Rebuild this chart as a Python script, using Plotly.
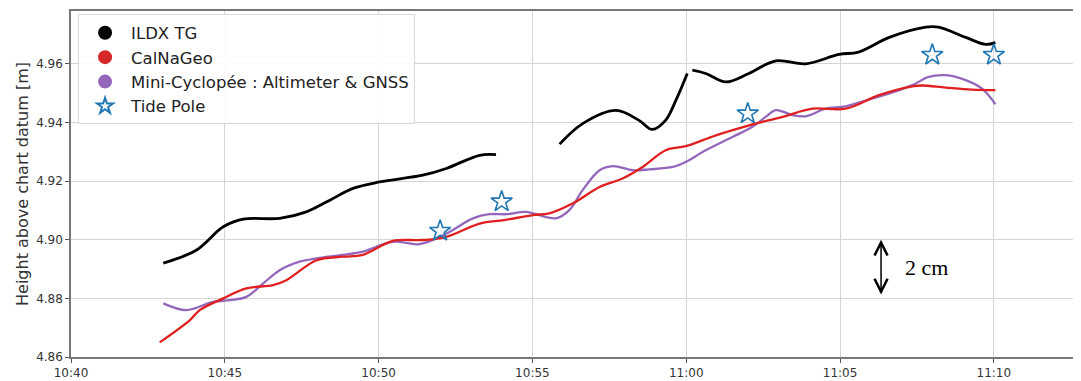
import plotly.graph_objects as go
import pandas as pd

DAY = "2023-01-01 "

# ILDX TG (black), two segments separated by a gap
tg_time = ["10:43:00", "10:44:05", "10:44:57", "10:45:36", "10:46:47", "10:47:39", "10:48:25",
           "10:49:10", "10:50:02", "10:51:26", "10:52:12", "10:53:17", "10:53:49", None,
           "10:55:53", "10:56:38", "10:57:43", "10:58:28", "10:58:54", "10:59:20", "10:59:40",
           "11:00:02", None,
           "11:00:12", "11:00:38", "11:01:17", "11:02:02", "11:02:55", "11:03:53", "11:04:58",
           "11:05:36", "11:06:36", "11:07:47", "11:08:12", "11:09:05", "11:09:44", "11:10:03"]
tg_height = [4.8920, 4.8965, 4.9044, 4.9070, 4.9073, 4.9095, 4.9135,
             4.9175, 4.9197, 4.9220, 4.9243, 4.9288, 4.9290, None,
             4.9326, 4.9396, 4.9441, 4.9407, 4.9376, 4.9408, 4.9476,
             4.9567, None,
             4.9578, 4.9567, 4.9538, 4.9567, 4.9610, 4.9600, 4.9632,
             4.9640, 4.9690, 4.9725, 4.9725, 4.9690, 4.9666, 4.9672]

# CalNaGeo (red)
cal_time = ["10:42:53", "10:43:52", "10:44:11", "10:44:57", "10:45:42", "10:46:34", "10:47:00",
            "10:47:59", "10:48:50", "10:49:29", "10:50:28", "10:51:26", "10:52:12", "10:53:17",
            "10:54:05", "10:55:01", "10:55:33", "10:56:19", "10:57:11", "10:57:56", "10:58:35",
            "10:59:20", "10:59:59", "11:00:58", "11:02:03", "11:03:08", "11:04:06", "11:05:11",
            "11:06:16", "11:07:21", "11:07:40", "11:08:26", "11:09:17", "11:10:03"]
cal_height = [4.8650, 4.8726, 4.8760, 4.8800, 4.8834, 4.8845, 4.8862,
              4.8930, 4.8942, 4.8948, 4.8996, 4.8999, 4.9010, 4.9055,
              4.9067, 4.9084, 4.9090, 4.9124, 4.9180, 4.9209, 4.9248,
              4.9305, 4.9319, 4.9356, 4.9390, 4.9419, 4.9447, 4.9447,
              4.9493, 4.9523, 4.9526, 4.9519, 4.9512, 4.9510]

# Mini-Cyclopée : Altimeter & GNSS (purple)
mc_time = ["10:43:00", "10:43:45", "10:44:37", "10:45:10", "10:45:42", "10:46:15", "10:46:47",
           "10:47:26", "10:47:59", "10:48:50", "10:49:29", "10:50:28", "10:51:20", "10:52:12",
           "10:53:04", "10:53:36", "10:54:10", "10:54:47", "10:55:46", "10:56:12", "10:56:38",
           "10:57:11", "10:57:37", "10:58:16", "10:58:48", "10:59:34", "10:59:59", "11:00:38",
           "11:01:30", "11:02:09", "11:02:35", "11:02:55", "11:03:27", "11:03:53", "11:04:32",
           "11:05:11", "11:05:56", "11:06:35", "11:07:21", "11:07:53", "11:08:26", "11:09:05",
           "11:09:37", "11:10:03"]
mc_height = [4.8783, 4.8760, 4.8788, 4.8794, 4.8805, 4.8851, 4.8896,
             4.8925, 4.8936, 4.8948, 4.8959, 4.8993, 4.8985, 4.9021,
             4.9073, 4.9087, 4.9087, 4.9095, 4.9073, 4.9101, 4.9169,
             4.9237, 4.9251, 4.9237, 4.9240, 4.9248, 4.9265, 4.9305,
             4.9350, 4.9385, 4.9419, 4.9442, 4.9425, 4.9421, 4.9447,
             4.9455, 4.9478, 4.9498, 4.9527, 4.9555, 4.9561, 4.9544,
             4.9515, 4.9462]

# Tide Pole (stars)
tp_time = ["10:52:00", "10:54:00", "11:02:00", "11:08:00", "11:10:00"]
tp_height = [4.903, 4.913, 4.943, 4.963, 4.963]

x_tick_labels = ["10:40", "10:45", "10:50", "10:55", "11:00", "11:05", "11:10"]
y_ticks = [4.86, 4.88, 4.90, 4.92, 4.94, 4.96]


def to_dt(times):
    return [None if t is None else pd.Timestamp(DAY + t) for t in times]


spline = dict(shape="spline", smoothing=1.0)

fig = go.Figure()
fig.add_trace(go.Scatter(x=to_dt(tg_time), y=tg_height, mode="lines", line=dict(color="#000000", width=2.8, **spline),
                         connectgaps=False, showlegend=False))
fig.add_trace(go.Scatter(x=to_dt(mc_time), y=mc_height, mode="lines", line=dict(color="#9467bd", width=2.3, **spline),
                         showlegend=False))
fig.add_trace(go.Scatter(x=to_dt(cal_time), y=cal_height, mode="lines", line=dict(color="#e02020", width=2.3, **spline),
                         showlegend=False))
fig.add_trace(go.Scatter(x=to_dt(tp_time), y=tp_height, mode="markers",
                         marker=dict(symbol="star-open", size=16, color="#1f77b4", line=dict(width=1.6, color="#1f77b4")),
                         showlegend=False))

# legend entries (matplotlib-style circle markers)
legend_items = [("ILDX TG", "circle", "#000000"), ("CalNaGeo", "circle", "#d62728"),
                ("Mini-Cyclopée : Altimeter & GNSS", "circle", "#9467bd"), ("Tide Pole", "star-open", "#1f77b4")]
for name, sym, col in legend_items:
    fig.add_trace(go.Scatter(x=[None], y=[None], mode="markers", name=name,
                             marker=dict(symbol=sym, size=13, color=col, line=dict(width=1.3, color=col))))

ticks_dt = [pd.Timestamp(DAY + t) for t in x_tick_labels]

# the page body adds an 8px offset, so the figure is sized to the visible window
fig.update_layout(
    width=1073, height=373,
    margin=dict(l=63, r=0, t=3, b=24),
    paper_bgcolor="white", plot_bgcolor="white",
    font=dict(family="DejaVu Sans", color="#333333"),
    showlegend=True,
    legend=dict(x=0.007, y=0.99, xanchor="left", yanchor="top", bgcolor="rgba(255,255,255,0.9)",
                bordercolor="#d9d9d9", borderwidth=1, font=dict(size=16.5, color="#222222"),
                itemsizing="constant", itemwidth=42, tracegroupgap=0),
    xaxis=dict(type="date", range=[pd.Timestamp(DAY + "10:40:00"), pd.Timestamp(DAY + "11:12:50")],
               tickvals=ticks_dt, ticktext=x_tick_labels, tickfont=dict(size=12, color="#333333"),
               showgrid=True, gridcolor="#d5d5d5", gridwidth=1,
               showline=True, linecolor="#777777", linewidth=2, mirror=True,
               ticks="outside", ticklen=4, tickcolor="#555555", zeroline=False),
    yaxis=dict(range=[4.86, 4.978], tickvals=y_ticks, ticktext=[f"{v:.2f}" for v in y_ticks],
               tickfont=dict(size=12, color="#333333"),
               showgrid=True, gridcolor="#d5d5d5", gridwidth=1,
               showline=True, linecolor="#777777", linewidth=1.5,
               ticks="outside", ticklen=4, tickcolor="#555555", zeroline=False,
               title=dict(text="Height above chart datum [m]", font=dict(size=16, color="#333333"), standoff=4)),
)

# 2 cm scale arrow
fig.add_annotation(x=pd.Timestamp(DAY + "11:06:20"), y=4.9000, ax=pd.Timestamp(DAY + "11:06:20"), ay=4.8808,
                   xref="x", yref="y", axref="x", ayref="y", text="", showarrow=True,
                   arrowhead=5, arrowside="end+start", arrowsize=1.7, arrowwidth=1.5, arrowcolor="#000000")
fig.add_annotation(x=pd.Timestamp(DAY + "11:07:03"), y=4.8905, xref="x", yref="y", text="2 cm",
                   showarrow=False, xanchor="left", yanchor="middle",
                   font=dict(family="Liberation Serif", size=22, color="#000000"))

fig.write_html("out.html")
